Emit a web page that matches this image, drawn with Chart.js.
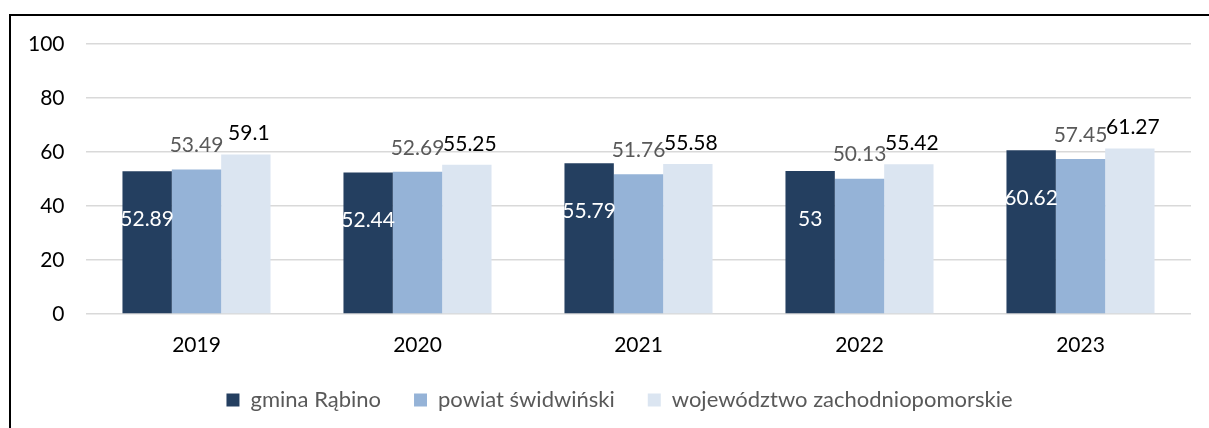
<!DOCTYPE html>
<html>
<head>
<meta charset="utf-8">
<script src="https://cdn.jsdelivr.net/npm/chart.js@4"></script>
<style>
  html, body { margin: 0; padding: 0; background: #fff; }
  #wrap { position: relative; width: 1209px; height: 428px; overflow: hidden; }
  #frame { position: absolute; left: 9px; top: 14px; right: -4px; bottom: -4px;
           border-left: 2px solid #000; border-top: 2px solid #000; }
  #box { position: absolute; left: 0; top: 0; width: 1209px; height: 428px; }
</style>
</head>
<body>
<div id="wrap">
  <div id="frame"></div>
  <div id="box"><canvas id="chart"></canvas></div>
</div>
<script>
const years = ['2019', '2020', '2021', '2022', '2023'];
const gmina = [52.89, 52.44, 55.79, 53, 60.62];
const powiat = [53.49, 52.69, 51.76, 50.13, 57.45];
const wojewodztwo = [59.1, 55.25, 55.58, 55.42, 61.27];
const yTicks = [0, 20, 40, 60, 80, 100];

const FONT = 'Lato, "Open Sans", sans-serif';

// labels drawn from the bar elements: inside for the first series, above for the others
const valueLabels = {
  id: 'valueLabels',
  afterDatasetsDraw(chart) {
    const ctx = chart.ctx;
    ctx.save();
    ctx.font = '21px ' + FONT;
    ctx.textAlign = 'center';
    ctx.textBaseline = 'middle';
    chart.data.datasets.forEach((ds, i) => {
      const meta = chart.getDatasetMeta(i);
      meta.data.forEach((bar, j) => {
        const txt = String(ds.data[j]);
        if (i === 0) {
          ctx.fillStyle = '#ffffff';
          ctx.fillText(txt, bar.x, bar.y + 48);
        } else if (i === 1) {
          ctx.fillStyle = '#595959';
          ctx.fillText(txt, bar.x, bar.y - 24);
        } else {
          ctx.fillStyle = '#000000';
          ctx.fillText(txt, bar.x + 3, bar.y - 21);
        }
      });
    });
    ctx.restore();
  }
};

new Chart(document.getElementById('chart'), {
  type: 'bar',
  data: {
    labels: years,
    datasets: [
      { label: 'gmina Rąbino', data: gmina, backgroundColor: '#243f60' },
      { label: 'powiat świdwiński', data: powiat, backgroundColor: '#95b3d7' },
      { label: 'województwo zachodniopomorskie', data: wojewodztwo, backgroundColor: '#dbe5f1' }
    ]
  },
  options: {
    responsive: true,
    maintainAspectRatio: false,
    animation: false,
    layout: { padding: { top: 44, right: 18, left: 48, bottom: 7 } },
    datasets: { bar: { categoryPercentage: 0.67, barPercentage: 1.0 } },
    plugins: {
      legend: {
        position: 'bottom',
        labels: {
          boxWidth: 13, boxHeight: 13, padding: 33,
          color: '#595959',
          font: { family: FONT, size: 22 }
        }
      },
      tooltip: { enabled: false }
    },
    scales: {
      x: {
        grid: { display: false, drawTicks: false },
        border: { display: false },
        ticks: { color: '#000', padding: 19, font: { family: FONT, size: 21 } },
        afterFit: s => { s.height = 42; }
      },
      y: {
        min: 0, max: 100,
        afterBuildTicks: s => { s.ticks = yTicks.map(v => ({ value: v })); },
        grid: { color: '#d9d9d9', lineWidth: 1.5, drawTicks: false },
        border: { display: false },
        // mirrored + far-aligned so the labels sit right-aligned left of the plot, unclipped
        ticks: { mirror: true, crossAlign: 'far', padding: -58, color: '#000', font: { family: FONT, size: 21 } },
        afterFit: s => { s.width = 38; }
      }
    }
  },
  plugins: [valueLabels]
});
</script>
</body>
</html>
